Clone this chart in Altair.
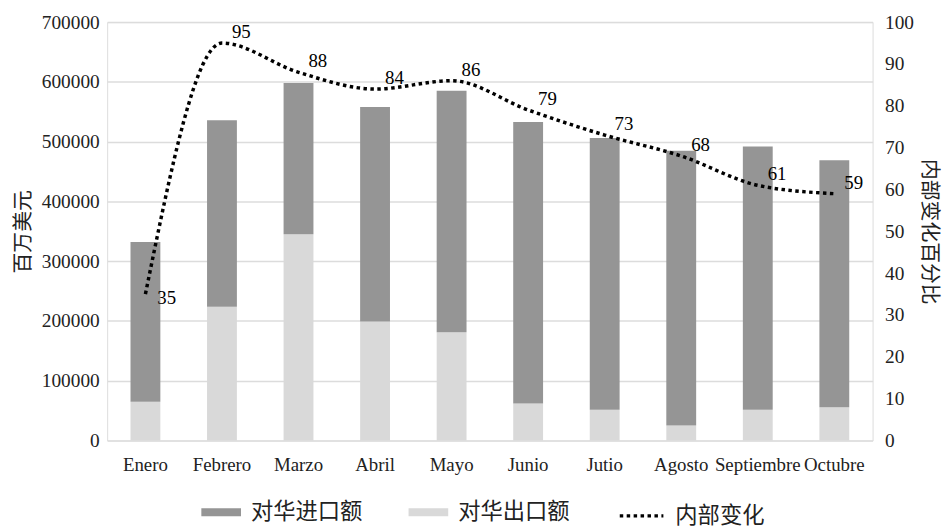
import altair as alt
import pandas as pd

months = ["Enero", "Febrero", "Marzo", "Abril", "Mayo", "Junio", "Jutio", "Agosto", "Septiembre", "Octubre"]
exports_cn = [65000, 224000, 345000, 199000, 181000, 62000, 51500, 25000, 51500, 55500]
imports_cn = [267000, 312000, 253000, 359000, 404000, 471000, 454500, 460000, 440500, 413500]
ratio = [35, 95, 88, 84, 86, 79, 73, 68, 61, 59]

bar_series = ["对华进口额", "对华出口额"]
bar_colors = ["#959595", "#d9d9d9"]
line_series = ["内部变化"]
left_ticks = [0, 100000, 200000, 300000, 400000, 500000, 600000, 700000]
right_ticks = [0, 10, 20, 30, 40, 50, 60, 70, 80, 90, 100]

rows = []
for m, e, i in zip(months, exports_cn, imports_cn):
    rows.append({"month": m, "series": bar_series[1], "value": e, "ord": 0})
    rows.append({"month": m, "series": bar_series[0], "value": i, "ord": 1})
bars_df = pd.DataFrame(rows)
line_df = pd.DataFrame({"month": months, "ratio": ratio, "series": line_series[0]})

serif = "Liberation Serif"
cjk = "Noto Sans CJK SC"
txt = "#222222"

bar_legend = alt.Legend(
    title=None, orient="none", legendX=95, legendY=474, direction="horizontal", columns=2,
    symbolType="M-1,-0.2H1V0.2H-1Z", symbolSize=1600, symbolStrokeWidth=0, symbolOpacity=1,
    labelFont=cjk, labelFontSize=22.5, labelColor=txt, labelOffset=10, columnPadding=46,
)
line_legend = alt.Legend(
    title=None, orient="none", legendX=515, legendY=474, direction="horizontal",
    symbolType="stroke", symbolSize=1936, symbolStrokeWidth=3.5, symbolStrokeColor="#000000",
    symbolDash=[3.5, 3.5], labelFont=cjk, labelFontSize=22.5, labelColor=txt, labelOffset=10,
)

x_enc = alt.X(
    "month:N", sort=months,
    scale=alt.Scale(paddingInner=0.61, paddingOuter=0.305),
    axis=alt.Axis(title=None, labelAngle=0, labelFont=serif, labelFontSize=19, labelColor=txt,
                  labelPadding=15, domain=False, ticks=False, grid=False),
)

bars = alt.Chart(bars_df).mark_bar().encode(
    x=x_enc,
    y=alt.Y("value:Q", stack="zero",
            scale=alt.Scale(domain=[0, 700000], nice=False),
            axis=alt.Axis(title="百万美元", values=left_ticks, format="d", orient="left",
                          labelFont=serif, labelFontSize=19.5, labelColor=txt, labelPadding=8,
                          titleFont=cjk, titleFontSize=21, titleFontWeight="normal", titleColor=txt,
                          titlePadding=8, domain=False, ticks=False,
                          grid=True, gridColor="#dcdcdc", gridWidth=1.5)),
    color=alt.Color("series:N", scale=alt.Scale(domain=bar_series, range=bar_colors), legend=bar_legend),
    order=alt.Order("ord:Q", sort="ascending"),
)

y_right = alt.Y("ratio:Q", scale=alt.Scale(domain=[0, 100], nice=False),
                axis=alt.Axis(title="内部变化百分比", values=right_ticks, orient="right",
                              labelFont=serif, labelFontSize=19.5, labelColor=txt, labelPadding=12,
                              titleFont=cjk, titleFontSize=21, titleFontWeight="normal", titleColor=txt,
                              titleAngle=90, titlePadding=5, domain=False, ticks=False, grid=False))

line = alt.Chart(line_df).mark_line(
    interpolate="monotone", strokeWidth=3.5, color="#000000"
).encode(
    x=alt.X("month:N", sort=months), y=y_right,
    strokeDash=alt.StrokeDash("series:N", scale=alt.Scale(domain=line_series, range=[[3.5, 3.5]]),
                              legend=line_legend),
)

text_main = alt.Chart(line_df).transform_filter(alt.datum.month != "Enero").mark_text(
    align="left", baseline="middle", dx=10, dy=-11, font=serif, fontSize=19, color="#000000"
).encode(x=alt.X("month:N", sort=months), y=y_right, text=alt.Text("ratio:Q"))

text_first = alt.Chart(line_df).transform_filter(alt.datum.month == "Enero").mark_text(
    align="left", baseline="middle", dx=12, dy=4, font=serif, fontSize=19, color="#000000"
).encode(x=alt.X("month:N", sort=months), y=y_right, text=alt.Text("ratio:Q"))

right_layer = alt.layer(line, text_main, text_first)

chart = alt.layer(bars, right_layer).resolve_scale(y="independent").properties(
    width=772, height=422,
    autosize=alt.AutoSizeParams(type="none"),
    padding={"left": 100, "top": 12, "right": 70, "bottom": 88},
).configure_view(stroke=None).configure(background="white")

chart.save("out.html", embed_options={"renderer": "svg", "actions": False})
